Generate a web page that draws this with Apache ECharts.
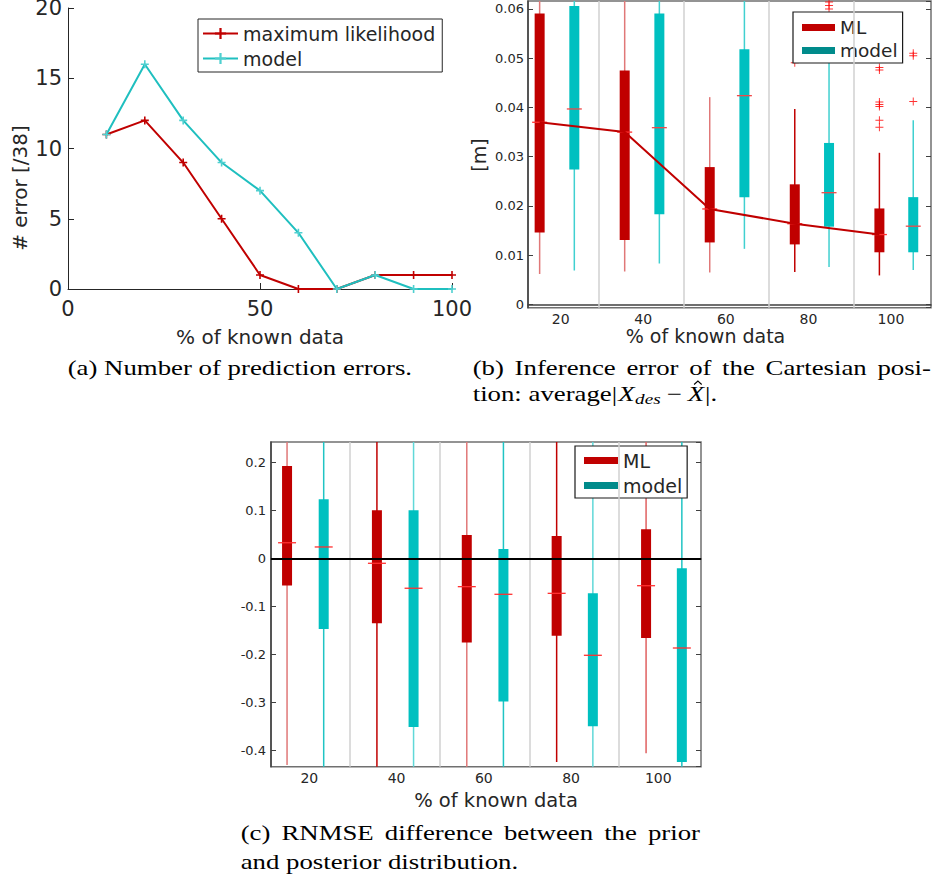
<!DOCTYPE html>
<html><head><meta charset="utf-8">
<script src="https://cdn.jsdelivr.net/npm/echarts@6/dist/echarts.min.js"></script>
<style>html,body{margin:0;padding:0;background:#fff}#c{width:936px;height:879px}</style>
</head><body><div id="c"></div>
<script>
// ---------- (a) number of prediction errors ----------
const pctA = [10, 20, 30, 40, 50, 60, 70, 80, 90, 100];
const errML = [11, 12, 9, 5, 1, 0, 0, 1, 1, 1];
const errModel = [11, 16, 12, 9, 7, 4, 0, 1, 0, 0];

// ---------- box positions (b) and (c), in % of known data axis units ----------
const posML = [14.9, 35.5, 56.1, 76.7, 97.2];
const posModel = [23.3, 43.9, 64.5, 85.0, 105.4];
const sepPos = [29.3, 49.9, 70.45, 91.05];

// ---------- (b) inference error [m]: [low whisker, q1, median, q3, high whisker] ----------
const bML = [
  [0.0062, 0.0146, 0.0370, 0.0591, 0.075],
  [0.0067, 0.0131, 0.0350, 0.0475, 0.075],
  [0.0065, 0.0126, 0.0194, 0.0279, 0.0421],
  [0.0066, 0.0122, 0.0164, 0.0244, 0.0397],
  [0.0059, 0.0106, 0.0142, 0.0195, 0.0308]
];
const bModel = [
  [0.0069, 0.0274, 0.0397, 0.0606, 0.075],
  [0.0083, 0.0183, 0.0359, 0.0591, 0.075],
  [0.0113, 0.0218, 0.0424, 0.0518, 0.075],
  [0.0076, 0.0158, 0.0227, 0.0328, 0.056],
  [0.0070, 0.0106, 0.0159, 0.0218, 0.0374]
];
const bOutML = [[], [], [], [0.0491], [0.0481, 0.0476, 0.0411, 0.0406, 0.0402, 0.0374, 0.0360]];
const bOutModel = [[], [], [], [0.0600, 0.0607, 0.0614], [0.0510, 0.0505, 0.0412]];

// ---------- (c) RNMSE difference: [low whisker, q1, median, q3, high whisker] ----------
const cML = [
  [-0.430, -0.0565, 0.0328, 0.1929, 0.30],
  [-0.50, -0.135, -0.0100, 0.1004, 0.30],
  [-0.50, -0.175, -0.0587, 0.0490, 0.30],
  [-0.424, -0.161, -0.0726, 0.0469, 0.30],
  [-0.406, -0.1656, -0.0567, 0.0608, 0.30]
];
const cModel = [
  [-0.50, -0.1469, 0.0240, 0.1233, 0.30],
  [-0.50, -0.351, -0.0620, 0.1004, 0.30],
  [-0.50, -0.298, -0.0746, 0.0198, 0.30],
  [-0.50, -0.3497, -0.2017, -0.0726, 0.30],
  [-0.50, -0.424, -0.1865, -0.0204, 0.30]
];

const legendNames = {a_ml: 'maximum likelihood', a_model: 'model', b_ml: 'ML', b_model: 'model', c_ml: 'ML', c_model: 'model'};

// ---------- helpers ----------
const RED = '#c00000', CYAN = '#00c0c0', TEAL = '#008b8b', TXT = '#262626';
const PLUS_A = 'path://M0,4H10V6H0Z M4,0H6V10H4Z';
const PLUS_B = 'path://M0,4.4H10V5.6H0Z M4.4,0H5.6V10H4.4Z';

function boxData(pos, arr) { return pos.map((p, i) => [p].concat(arr[i])); }
function outData(pos, arr) { const r = []; pos.forEach((p, i) => arr[i].forEach(v => r.push([p, v]))); return r; }

function boxRender(boxColor, whiskColors, medColor, boxW, medW) {
  return function (params, api) {
    const cs = params.coordSys;
    const clampY = y => Math.max(cs.y, Math.min(cs.y + cs.height, y));
    const x = api.value(0);
    const lo = api.coord([x, api.value(1)]);
    const q1 = api.coord([x, api.value(2)]);
    const md = api.coord([x, api.value(3)]);
    const q3 = api.coord([x, api.value(4)]);
    const hi = api.coord([x, api.value(5)]);
    const cx = lo[0];
    const yTop = clampY(q3[1]), yBot = clampY(q1[1]);
    return {
      type: 'group', children: [
        {type: 'line', shape: {x1: cx, y1: clampY(lo[1]), x2: cx, y2: clampY(hi[1])},
         style: {stroke: whiskColors[params.dataIndex], lineWidth: 1.5}},
        {type: 'rect', shape: {x: cx - boxW / 2, y: yTop, width: boxW, height: yBot - yTop},
         style: {fill: boxColor}},
        {type: 'line', shape: {x1: cx - medW / 2, y1: md[1], x2: cx + medW / 2, y2: md[1]},
         style: {stroke: medColor, lineWidth: 1.3}}
      ]
    };
  };
}

function tickFmt(step, dec) {
  return v => (Math.abs(v / step - Math.round(v / step)) < 1e-6) ? String(+(Math.round(v / step) * step).toFixed(dec)) : '';
}

const sepLine = {
  silent: true, symbol: ['none', 'none'], label: {show: false}, animation: false,
  lineStyle: {color: '#d0d0d0', width: 1.5, type: 'solid'},
  emphasis: {disabled: true},
  data: sepPos.map(v => ({xAxis: v}))
};

// ---------- caption text helpers ----------
const mctx = document.createElement('canvas').getContext('2d');
const SERIF = '"Liberation Serif"';
function tw(t, size, st) { mctx.font = (st || 'normal') + ' ' + size + 'px ' + SERIF; return mctx.measureText(t).width; }
const CF = 21;
const capA = '(a) Number of prediction errors.';
const capB1 = '(b) Inference error of the Cartesian posi-';
const capC1 = '(c) RNMSE difference between the prior';
const capC2 = 'and posterior distribution.';
const SX = 344.6 / tw(capA, CF);

function serifText(t, x, y, size, st) {
  return {type: 'text', x: x, y: y, scaleX: SX, silent: true,
    style: {text: t, fontFamily: 'Liberation Serif', fontSize: size || CF, fontStyle: st || 'normal', fill: '#000',
      align: 'left', textAlign: 'left', verticalAlign: 'middle', textVerticalAlign: 'middle'}};
}
function justify(line, x0, x1, y) {
  const ws = line.split(' ');
  const wid = ws.map(w => tw(w, CF) * SX);
  const gap = (x1 - x0 - wid.reduce((a, b) => a + b, 0)) / (ws.length - 1);
  let x = x0; const out = [];
  ws.forEach((w, i) => { out.push(serifText(w, x, y)); x += wid[i] + gap; });
  return out;
}
function sansText(t, x, y, size, rot) {
  return {type: 'text', x: x, y: y, rotation: rot || 0, silent: true,
    style: {text: t, fontFamily: 'DejaVu Sans', fontSize: size, fill: TXT,
      align: 'center', textAlign: 'center', verticalAlign: 'middle', textVerticalAlign: 'middle'}};
}

const graphics = [];
graphics.push(serifText(capA, 67.7, 368.5));
justify(capB1, 472.7, 931, 368.5).forEach(e => graphics.push(e));
// second line of (b) caption with math
(function () {
  let x = 472.7; const y = 394;
  const p1 = 'tion: average|';
  graphics.push(serifText(p1, x, y)); x += tw(p1, CF) * SX + 1;
  graphics.push(serifText('X', x, y, CF, 'italic')); x += tw('X', CF, 'italic') * SX + 0.5;
  graphics.push(serifText('des', x, y + 5, 15, 'italic')); x += tw('des', 15, 'italic') * SX + 6;
  graphics.push(serifText('\u2212', x, y)); x += tw('\u2212', CF) * SX + 6;
  const xX = x, wX = tw('X', CF, 'italic') * SX;
  graphics.push(serifText('X', x, y, CF, 'italic')); x += wX + 1;
  const hx = xX + wX * 0.62;
  graphics.push({type: 'polyline', silent: true,
    shape: {points: [[hx - 3.8, y - 9.5], [hx, y - 13], [hx + 3.8, y - 9.5]]},
    style: {stroke: '#000', lineWidth: 1.1, fill: null}});
  graphics.push(serifText('|.', x, y));
})();
justify(capC1, 240.7, 700, 833.5).forEach(e => graphics.push(e));
graphics.push(serifText(capC2, 240.7, 862));
// axis titles
graphics.push(sansText('% of known data', 260, 337, 20));
graphics.push(sansText('# error [/38]', 20, 188, 20, Math.PI / 2));
graphics.push(sansText('% of known data', 705.5, 336, 19));
graphics.push(sansText('[m]', 479, 155, 19, Math.PI / 2));
graphics.push(sansText('% of known data', 496, 800.5, 19.5));

// ---------- axes ----------
const axisTxt = (size, margin, extra) => Object.assign({color: TXT, fontFamily: 'DejaVu Sans', fontSize: size, margin: margin}, extra || {});
const darkLine = {show: true, lineStyle: {color: '#404040', width: 1.5}};

const option = {
  animation: false,
  backgroundColor: '#fff',
  grid: [
    {left: 68, top: 8, width: 384, height: 281, show: false, containLabel: false, outerBoundsMode: 'none'},
    {left: 528, top: 1, width: 403, height: 306.7, show: true, borderColor: '#707070', borderWidth: 1.5, containLabel: false, outerBoundsMode: 'none'},
    {left: 271, top: 442, width: 430, height: 324.7, show: true, borderColor: '#707070', borderWidth: 1.5, containLabel: false, outerBoundsMode: 'none'}
  ],
  xAxis: [
    {gridIndex: 0, type: 'value', min: 0, max: 100, interval: 50,
     axisLine: {show: true, lineStyle: {color: TXT, width: 1}},
     axisTick: {show: true, inside: true, length: 6, lineStyle: {color: TXT}},
     axisLabel: axisTxt(21, 9), splitLine: {show: false}},
    {gridIndex: 1, type: 'value', min: 12.08, max: 109.7, splitNumber: 5,
     axisLine: darkLine, axisTick: {show: false},
     axisLabel: axisTxt(14, 4, {showMinLabel: false, showMaxLabel: false, formatter: tickFmt(20, 0)}),
     splitLine: {show: false}},
    {gridIndex: 2, type: 'value', min: 11.22, max: 109.79, splitNumber: 5,
     axisLine: darkLine, axisTick: {show: false},
     axisLabel: axisTxt(14, 4, {showMinLabel: false, showMaxLabel: false, formatter: tickFmt(20, 0)}),
     splitLine: {show: false}}
  ],
  yAxis: [
    {gridIndex: 0, type: 'value', min: 0, max: 20, interval: 5,
     axisLine: {show: true, lineStyle: {color: TXT, width: 1}},
     axisTick: {show: true, inside: true, length: 6, lineStyle: {color: TXT}},
     axisLabel: axisTxt(21, 6, {lineHeight: 16}), splitLine: {show: false}},
    {gridIndex: 1, type: 'value', min: -0.00065, max: 0.06162, splitNumber: 5,
     axisLine: darkLine, axisTick: {show: true, inside: true, length: 5, lineStyle: {color: '#404040'}},
     axisLabel: axisTxt(13, 4, {showMinLabel: false, showMaxLabel: false, formatter: tickFmt(0.01, 2)}),
     splitLine: {show: false}},
    {gridIndex: 1, type: 'value', position: 'right', min: -0.00065, max: 0.06162, splitNumber: 5,
     axisLine: {show: false}, axisTick: {show: true, inside: true, length: 5, lineStyle: {color: '#404040'}},
     axisLabel: {show: false}, splitLine: {show: false}},
    {gridIndex: 2, type: 'value', min: -0.4338, max: 0.2427, splitNumber: 5,
     axisLine: darkLine, axisTick: {show: true, inside: true, length: 5, lineStyle: {color: '#404040'}},
     axisLabel: axisTxt(13, 5, {showMinLabel: false, showMaxLabel: false, formatter: tickFmt(0.1, 1)}),
     splitLine: {show: false}},
    {gridIndex: 2, type: 'value', position: 'right', min: -0.4338, max: 0.2427, splitNumber: 5,
     axisLine: {show: false}, axisTick: {show: true, inside: true, length: 5, lineStyle: {color: '#404040'}},
     axisLabel: {show: false}, splitLine: {show: false}}
  ],
  legend: [
    {left: 198, top: 19, orient: 'vertical', selectedMode: false, backgroundColor: '#fff',
     borderColor: TXT, borderWidth: 1, padding: [5, 7, 4, 4], itemGap: 6, itemWidth: 35, itemHeight: 14, itemTextGap: 3,
     textStyle: {fontFamily: 'DejaVu Sans', fontSize: 19, color: TXT},
     formatter: n => legendNames[n], data: ['a_ml', 'a_model']},
    {left: 793, top: 12, orient: 'vertical', selectedMode: false, backgroundColor: '#fff', icon: 'rect',
     borderColor: '#1a1a1a', borderWidth: 1.2, padding: [6, 5, 3, 9], itemGap: 4, itemWidth: 33, itemHeight: 7, itemTextGap: 10,
     textStyle: {fontFamily: 'DejaVu Sans', fontSize: 18.5, color: TXT},
     formatter: n => legendNames[n],
     data: [{name: 'b_ml', itemStyle: {color: RED}}, {name: 'b_model', itemStyle: {color: TEAL}}]},
    {left: 575, top: 446, orient: 'vertical', selectedMode: false, backgroundColor: '#fff', icon: 'rect',
     borderColor: '#1a1a1a', borderWidth: 1.2, padding: [5, 5, 3, 9], itemGap: 6, itemWidth: 34, itemHeight: 7, itemTextGap: 10,
     textStyle: {fontFamily: 'DejaVu Sans', fontSize: 19, color: TXT},
     formatter: n => legendNames[n],
     data: [{name: 'c_ml', itemStyle: {color: RED}}, {name: 'c_model', itemStyle: {color: TEAL}}]}
  ],
  graphic: {elements: graphics},
  series: [
    // (a)
    {name: 'a_ml', type: 'line', xAxisIndex: 0, yAxisIndex: 0, data: pctA.map((p, i) => [p, errML[i]]),
     lineStyle: {color: RED, width: 2}, itemStyle: {color: RED}, symbol: PLUS_A, symbolSize: 8, showAllSymbol: true, z: 3},
    {name: 'a_model', type: 'line', xAxisIndex: 0, yAxisIndex: 0, data: pctA.map((p, i) => [p, errModel[i]]),
     lineStyle: {color: '#1fbfbf', width: 2}, itemStyle: {color: '#4fd0d0'}, symbol: PLUS_A, symbolSize: 8, showAllSymbol: true, z: 4},
    // (b)
    {name: 'b_ml', type: 'custom', xAxisIndex: 1, yAxisIndex: 1, data: boxData(posML, bML),
     encode: {x: 0, y: [1, 2, 3, 4, 5]}, itemStyle: {color: RED}, z: 2,
     renderItem: boxRender(RED, ['#e07878', '#e07878', '#e07878', '#c00000', '#c00000'], '#ff3030', 10, 15),
     markLine: sepLine},
    {name: 'b_model', type: 'custom', xAxisIndex: 1, yAxisIndex: 1, data: boxData(posModel, bModel),
     encode: {x: 0, y: [1, 2, 3, 4, 5]}, itemStyle: {color: CYAN}, z: 2,
     renderItem: boxRender(CYAN, ['#40d0d0', '#40d0d0', '#40d0d0', '#40d0d0', '#40d0d0'], '#f04848', 10, 15)},
    {name: 'b_mlmed', type: 'line', xAxisIndex: 1, yAxisIndex: 1, data: posML.map((p, i) => [p, bML[i][2]]),
     lineStyle: {color: RED, width: 2}, symbol: 'none', z: 5},
    {name: 'b_out', type: 'scatter', xAxisIndex: 1, yAxisIndex: 1,
     data: outData(posML, bOutML).concat(outData(posModel, bOutModel)),
     symbol: PLUS_B, symbolSize: 8, itemStyle: {color: '#ff0000'}, z: 3},
    // (c)
    {name: 'c_ml', type: 'custom', xAxisIndex: 2, yAxisIndex: 3, data: boxData(posML, cML),
     encode: {x: 0, y: [1, 2, 3, 4, 5]}, itemStyle: {color: RED}, z: 2,
     renderItem: boxRender(RED, ['#e07878', '#c00000', '#e07878', '#c00000', '#e06060'], '#ff3030', 10, 18),
     markLine: sepLine},
    {name: 'c_model', type: 'custom', xAxisIndex: 2, yAxisIndex: 3, data: boxData(posModel, cModel),
     encode: {x: 0, y: [1, 2, 3, 4, 5]}, itemStyle: {color: CYAN}, z: 2,
     renderItem: boxRender(CYAN, ['#20c4c4', '#60d8d8', '#20c4c4', '#60d8d8', '#20c4c4'], '#ff3030', 10, 18)},
    {name: 'c_zero', type: 'line', xAxisIndex: 2, yAxisIndex: 3, data: [], z: 6,
     markLine: {silent: true, symbol: ['none', 'none'], label: {show: false}, animation: false,
       lineStyle: {color: '#000', width: 2, type: 'solid'}, data: [{yAxis: 0}]}}
  ]
};

const chart = echarts.init(document.getElementById('c'), null, {renderer: 'svg', width: 936, height: 879});
chart.setOption(option);
</script>
</body></html>
